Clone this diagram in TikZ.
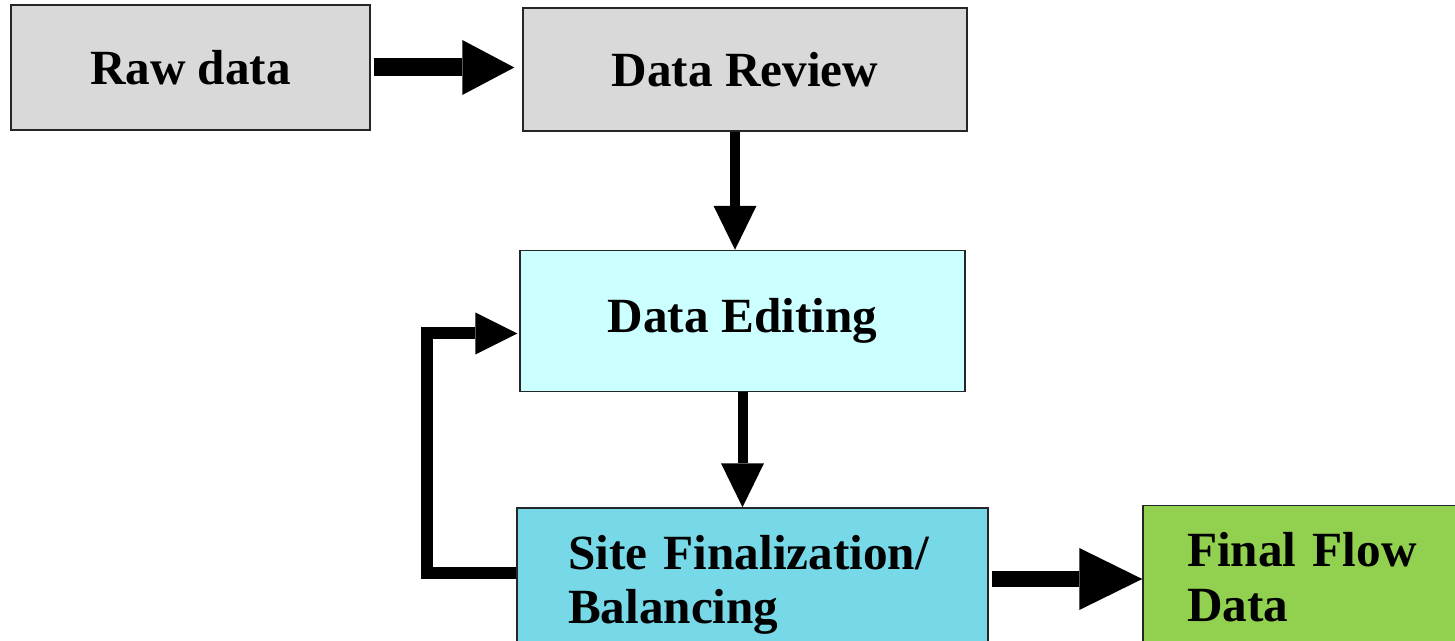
\documentclass[tikz,border=0pt]{standalone}
\usepackage{fontspec}
\setmainfont{Liberation Serif}
\usetikzlibrary{arrows.meta}
\definecolor{rawgray}{HTML}{D9D9D9}
\definecolor{editcyan}{HTML}{CCFFFF}
\definecolor{sitecyan}{HTML}{77D8E7}
\definecolor{finalgreen}{HTML}{92D050}
\tikzstyle{bx}=[shape=rectangle,
                draw=black!85,
                line width=0.03cm,
                font=\fontsize{28}{31}\selectfont\bfseries]
\tikzstyle{wide}=[line width=0.36cm,
                  -{Triangle[length=1.04cm,width=1.1cm,line width=0pt]}]
\tikzstyle{slim}=[line width=0.2cm,
                  -{Triangle[length=0.88cm,width=0.86cm,line width=0pt]}]

\begin{document}
\begin{tikzpicture}[x=0.02cm,y=-0.02cm]
\useasboundingbox (0,0) rectangle (1455,641);
\clip (0,0) rectangle (1455,641);

% boxes
\node[bx, fill=rawgray, minimum width=7.18cm, minimum height=2.5cm] (raw) at (190.5,67.5) {Raw data};
\node[bx, fill=rawgray, minimum width=8.88cm, minimum height=2.46cm] (rev) at (745,69.5) {Data Review};
\node[bx, fill=editcyan, minimum width=8.9cm, minimum height=2.82cm] (edit) at (742.5,321) {Data Editing};
\node[bx, fill=sitecyan, text width=7.38cm, inner xsep=1.02cm, minimum height=3.08cm, align=left] (site) at (752.5,585) {Site Finalization/\\Balancing};
\node[bx, fill=finalgreen, text width=5.38cm, inner xsep=0.88cm, minimum height=2.86cm, align=left] (final) at (1321.5,577) {Final Flow\\Data};

% flow
\draw[wide, shorten <=0.06cm, shorten >=0.16cm] (raw.east) -- (raw.east -| rev.west);
\draw[slim] ([xshift=-0.2cm]rev.south) -- ([xshift=-0.2cm]rev.south |- edit.north);
\draw[slim] (edit.south) -- (edit.south |- site.north);
\draw[line width=0.32cm, -{Triangle[length=1.26cm,width=1.24cm,line width=0pt]}, shorten <=0.06cm]
     ([yshift=0.12cm]site.east) -- ([yshift=0.12cm]site.east -| final.west);

% loop back
\draw[line width=0.24cm, -{Triangle[length=0.84cm,width=0.84cm,line width=0pt]}, shorten >=0.04cm]
     ([yshift=0.24cm]site.west) -- ++(-89,0) |- ([yshift=-0.25cm]edit.west);

\end{tikzpicture}
\end{document}
